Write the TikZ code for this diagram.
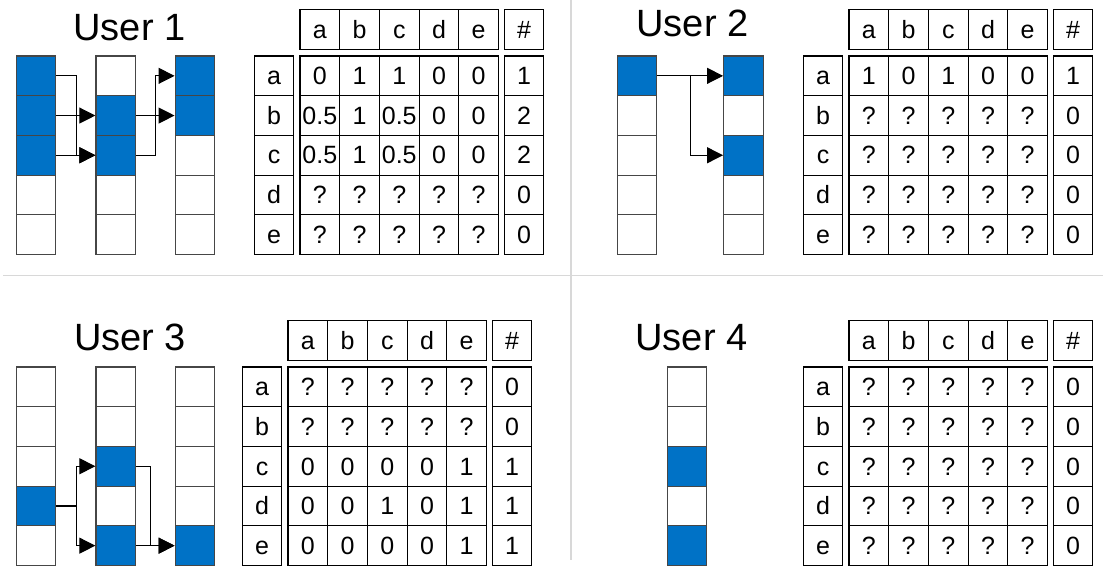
\documentclass[tikz,border=0pt]{standalone}
\usepackage{fontspec}
\setmainfont{Liberation Sans}
\usetikzlibrary{arrows.meta}

\definecolor{ublue}{RGB}{0,114,198}
\definecolor{divgray}{RGB}{216,216,216}
\definecolor{edgegray}{RGB}{70,70,70}

\tikzset{
  cellbox/.style={draw=black, line width=1.2pt, minimum width=39.7pt, minimum height=39.7pt,
    inner sep=0pt, text height=17.5pt, text depth=0pt, font=\fontsize{25pt}{25pt}\selectfont},
  stripcell/.style={draw=edgegray, line width=1.2pt, minimum width=39.7pt, minimum height=39.7pt,
    inner sep=0pt},
  conn/.style={draw=black, line width=1.1pt, -{Triangle[length=16pt,width=16pt]}},
  usertitle/.style={anchor=base, inner sep=0pt, font=\fontsize{38pt}{38pt}\selectfont},
  divider/.style={draw=divgray, line width=1.6pt},
}

% A column of five item cells: name, x centre, y top, filled rows
\newcommand{\itemstrip}[4]{%
  \foreach \j in {0,...,4}{%
    \gdef\cellfill{white}%
    \foreach \k in {#4}{\ifnum\k=\j\relax\gdef\cellfill{ublue}\fi}%
    \node[stripcell, fill=\cellfill] (#1\j) at (#2, #3+19.85+39.7*\j) {};
  }%
}

% A co-occurrence table: name, x of the label column, y top of the rows, rows of values
\newcommand{\cotable}[4]{%
  \foreach \c [count=\i from 0] in {a,b,c,d,e}
    \node[cellbox] (#1h\i) at (#2+65.85+39.7*\i, #3-26.3) {\c};
  \node[cellbox] (#1hn) at (#2+270, #3-26.3) {\#};
  \foreach \c [count=\j from 0] in {a,b,c,d,e}
    \node[cellbox] (#1l\j) at (#2+20, #3+19.85+39.7*\j) {\c};
  \foreach \row [count=\j from 0] in {#4}{%
    \foreach \v [count=\i from 0] in \row{%
      \pgfmathsetmacro\xx{\i<5 ? #2+65.85+39.7*\i : #2+270}%
      \node[cellbox] (#1v\j\i) at (\xx, #3+19.85+39.7*\j) {\v};
    }%
  }%
}

\begin{document}
\begin{tikzpicture}[x=1pt, y=-1pt]
\useasboundingbox (0,0) rectangle (1103,567);

% panel dividers
\draw[divider] (3,275.5) -- (1103,275.5);
\draw[divider] (571,0) -- (571,560);

% ---------------- User 1 ----------------
\node[usertitle] (title1) at (129.5,40.5) {User 1};
\itemstrip{s1a}{36}{56}{0,1,2}
\itemstrip{s1b}{115.8}{56}{1,2}
\itemstrip{s1c}{195}{56}{0,1}
\draw[conn] (s1a0.east) -- ++(20,0) |- (s1b2.west);
\draw[conn] (s1a1.east) -- (s1b1.west);
\draw[conn] (s1a2.east) -- (s1b2.west);
\draw[conn] (s1b1.east) -- (s1c1.west);
\draw[conn] (s1b2.east) -- ++(19.5,0) |- (s1c0.west);
\cotable{t1}{254}{56}{{0,1,1,0,0,1},{0.5,1,0.5,0,0,2},{0.5,1,0.5,0,0,2},{?,?,?,?,?,0},{?,?,?,?,?,0}}

% ---------------- User 2 ----------------
\node[usertitle] (title2) at (692.5,37) {User 2};
\itemstrip{s2a}{637}{56}{0}
\itemstrip{s2b}{743.5}{56}{0,2}
\draw[conn] (s2a0.east) -- (s2b0.west);
\draw[conn] (s2a0.east) -- ++(33,0) |- (s2b2.west);
\cotable{t2}{803}{56}{{1,0,1,0,0,1},{?,?,?,?,?,0},{?,?,?,?,?,0},{?,?,?,?,?,0},{?,?,?,?,?,0}}

% ---------------- User 3 ----------------
\node[usertitle] (title3) at (130,350) {User 3};
\itemstrip{s3a}{36}{367}{3}
\itemstrip{s3b}{115.8}{367}{2,4}
\itemstrip{s3c}{195}{367}{4}
\draw[conn] (s3a3.east) -- ++(20,0) |- (s3b2.west);
\draw[conn] (s3a3.east) -- ++(20,0) |- (s3b4.west);
\draw[conn] (s3b2.east) -- ++(14.5,0) |- (s3c4.west);
\draw[conn] (s3b4.east) -- (s3c4.west);
\cotable{t3}{242}{367}{{?,?,?,?,?,0},{?,?,?,?,?,0},{0,0,0,0,1,1},{0,0,1,0,1,1},{0,0,0,0,1,1}}

% ---------------- User 4 ----------------
\node[usertitle] (title4) at (691.5,350) {User 4};
\itemstrip{s4a}{687}{367}{2,4}
\cotable{t4}{803}{367}{{?,?,?,?,?,0},{?,?,?,?,?,0},{?,?,?,?,?,0},{?,?,?,?,?,0},{?,?,?,?,?,0}}

\end{tikzpicture}
\end{document}
